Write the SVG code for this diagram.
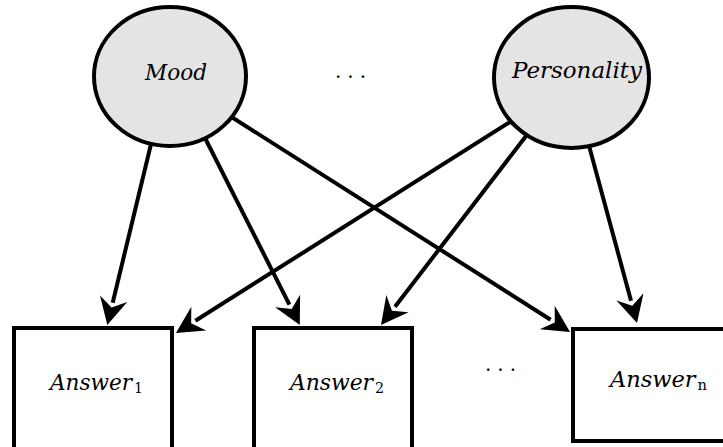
<svg xmlns="http://www.w3.org/2000/svg" width="723" height="447" viewBox="0 0 723 447">
  <style>
    .latent { fill: #e4e4e4; stroke: #000; stroke-width: 4; }
    .obs { fill: #fff; stroke: #000; stroke-width: 4; }
    .edge { fill: none; stroke: #000; stroke-width: 4; marker-end: url(#head); }
    .lbl { font-family: "DejaVu Serif", serif; font-style: italic; font-size: 23px; fill: #000; }
    .sub { font-style: normal; font-size: 15px; }
    .dots { font-family: "DejaVu Serif", serif; font-size: 20px; letter-spacing: 6px; fill: #000; }
  </style>
  <defs>
    <marker id="head" markerUnits="userSpaceOnUse" markerWidth="40" markerHeight="40" viewBox="-4 -20 40 40" refX="4" refY="0" orient="auto">
      <path d="M27,0 L0,-14 L9,0 L0,14 Z" fill="#000"/>
    </marker>
  </defs>

  <!-- connectors -->
  <g id="edges">
    <line class="edge" x1="152" y1="140" x2="112.7" y2="302.7"/>
    <line class="edge" x1="205" y1="138" x2="289.4" y2="304.6"/>
    <line class="edge" x1="230" y1="116" x2="550.6" y2="319.7"/>
    <line class="edge" x1="510" y1="122" x2="195.4" y2="320.7"/>
    <line class="edge" x1="526" y1="136" x2="395.0" y2="306.8"/>
    <line class="edge" x1="588" y1="142" x2="631.0" y2="300.8"/>
  </g>

  <!-- latent causes -->
  <g id="mood">
    <ellipse class="latent" cx="170" cy="76.5" rx="76" ry="69.5"/>
    <text class="lbl" x="145" y="80" font-size="25" textLength="62" lengthAdjust="spacingAndGlyphs">Mood</text>
  </g>
  <g id="personality">
    <ellipse class="latent" cx="571.5" cy="77.5" rx="77.5" ry="70.5"/>
    <text class="lbl" x="512" y="78" textLength="130" lengthAdjust="spacingAndGlyphs">Personality</text>
  </g>
  <text class="dots" x="335" y="78">...</text>

  <!-- observed answers -->
  <g id="answer1">
    <rect class="obs" x="14" y="328" width="158" height="140"/>
    <text class="lbl" x="50" y="390" textLength="93" lengthAdjust="spacingAndGlyphs">Answer<tspan class="sub" dx="2" dy="3">1</tspan></text>
  </g>
  <g id="answer2">
    <rect class="obs" x="254" y="328" width="158" height="140"/>
    <text class="lbl" x="290" y="390" textLength="94" lengthAdjust="spacingAndGlyphs">Answer<tspan class="sub" dx="2" dy="3">2</tspan></text>
  </g>
  <text class="dots" x="485" y="371">...</text>
  <g id="answern">
    <rect class="obs" x="573" y="329" width="170" height="112"/>
    <text class="lbl" x="610" y="387" textLength="97" lengthAdjust="spacingAndGlyphs">Answer<tspan class="sub" dx="2" dy="3">n</tspan></text>
  </g>
</svg>
